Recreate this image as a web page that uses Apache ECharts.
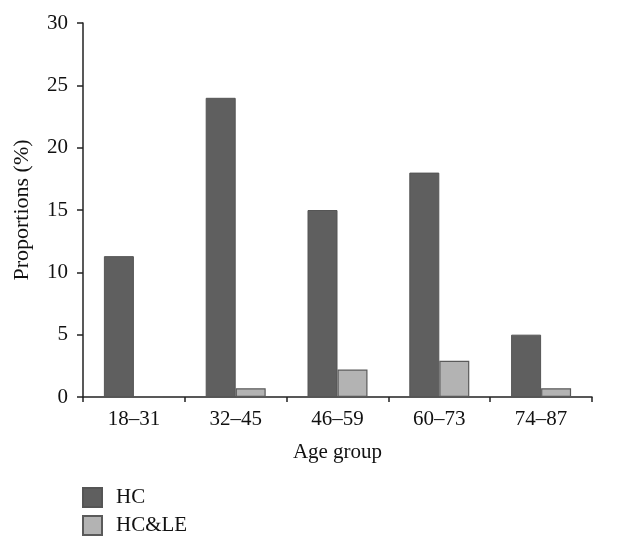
<!DOCTYPE html>
<html><head><meta charset="utf-8">
<script src="https://cdn.jsdelivr.net/npm/echarts@6/dist/echarts.min.js"></script>
<style>html,body{margin:0;padding:0;background:#fff}#c{width:643px;height:548px}</style>
</head><body><div id="c"></div>
<script>
var categories = ['18–31','32–45','46–59','60–73','74–87'];
var hc = [11.3, 24.0, 15.0, 18.0, 5.0];
var hcle = [0, 0.7, 2.2, 2.9, 0.7];
var yTicks = [0, 5, 10, 15, 20, 25, 30];
var font = 'Liberation Serif';
var chart = echarts.init(document.getElementById('c'));
chart.setOption({
  animation: false,
  backgroundColor: '#fff',
  textStyle: {fontFamily: font},
  grid: {left: 83, right: 51, top: 23, bottom: 151},
  legend: {
    orient: 'vertical', left: 82, top: 487, height: 60, padding: 0,
    itemWidth: 19, itemHeight: 19, itemGap: 7,
    icon: 'rect',
    textStyle: {fontFamily: font, fontSize: 21, color: '#111', padding: [0, 0, 0, 9]},
    data: ['HC', 'HC&LE']
  },
  xAxis: {
    type: 'category', data: categories,
    name: 'Age group', nameLocation: 'middle', nameGap: 45,
    nameTextStyle: {fontFamily: font, fontSize: 21, color: '#111'},
    axisLine: {lineStyle: {color: '#222', width: 1.5}},
    axisTick: {show: true, alignWithLabel: false, length: 5, lineStyle: {color: '#222', width: 1.5}},
    axisLabel: {fontFamily: font, fontSize: 21, color: '#111', margin: 12}
  },
  yAxis: {
    type: 'value', min: 0, max: 30, interval: 5,
    name: 'Proportions (%)', nameLocation: 'middle', nameGap: 50, nameRotate: 90,
    nameTextStyle: {fontFamily: font, fontSize: 22, color: '#111'},
    splitLine: {show: false},
    axisLine: {show: true, lineStyle: {color: '#222', width: 1.5}},
    axisTick: {show: true, length: 6, lineStyle: {color: '#222', width: 1.5}},
    axisLabel: {fontFamily: font, fontSize: 21, color: '#111', margin: 15,
      formatter: function(v){ return yTicks.indexOf(v) >= 0 ? String(v) : ''; }}
  },
  series: [
    {name: 'HC', type: 'bar', data: hc, barWidth: 30, barGap: '0%',
     itemStyle: {color: '#5f5f5f', borderColor: '#555', borderWidth: 1}},
    {name: 'HC&LE', type: 'bar', data: hcle, barWidth: 30,
     itemStyle: {color: '#b3b3b3', borderColor: '#5a5a5a', borderWidth: 1.2}}
  ]
});
</script></body></html>
